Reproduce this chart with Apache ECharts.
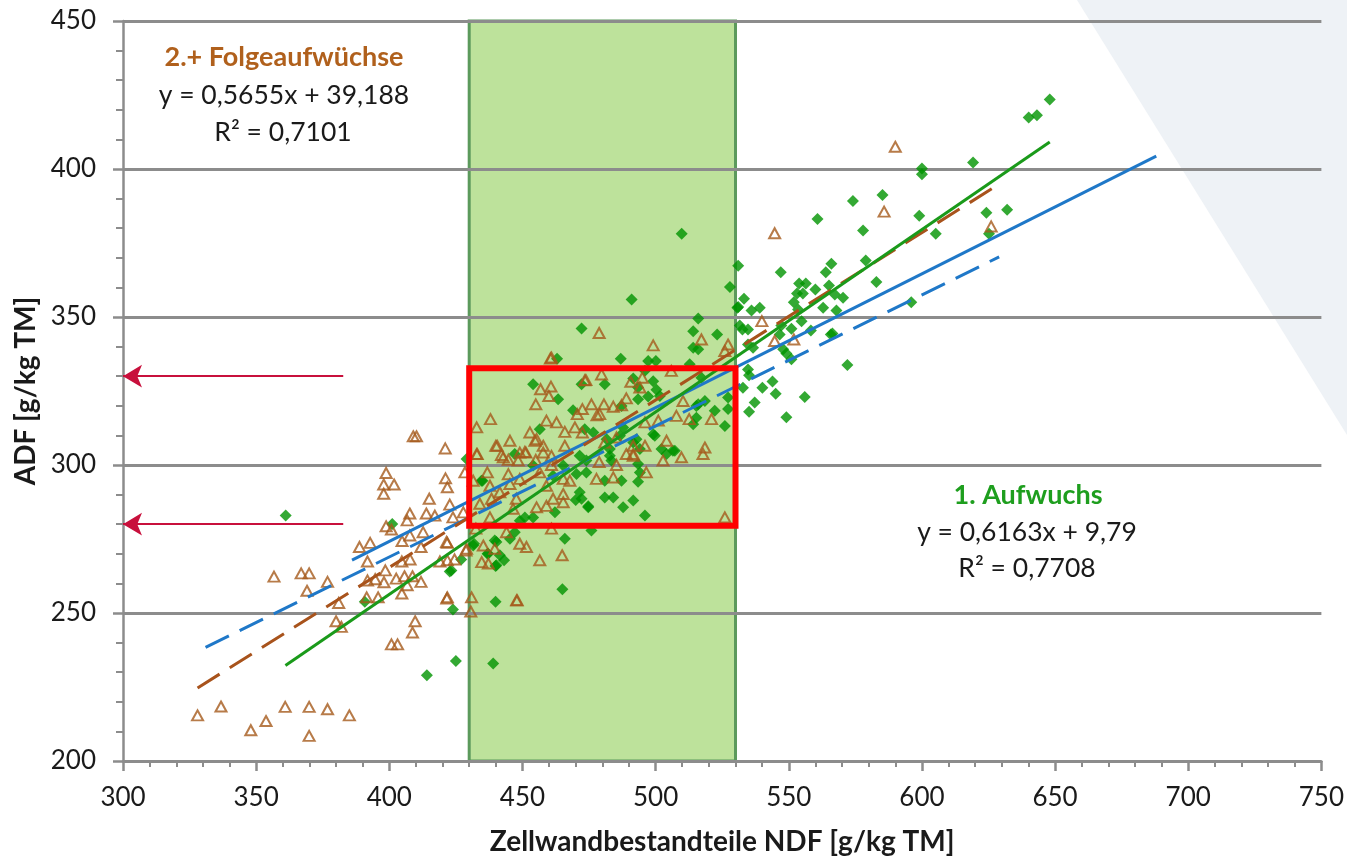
<!DOCTYPE html>
<html><head><meta charset="utf-8">
<script src="https://cdn.jsdelivr.net/npm/echarts@6/dist/echarts.min.js"></script>
<style>html,body{margin:0;padding:0;background:#fff}#c{width:1347px;height:861px}</style>
</head><body><div id="c"></div>
<script>
// ---- data ----
const xTickValues = [300, 350, 400, 450, 500, 550, 600, 650, 700, 750];
const yTickValues = [200, 250, 300, 350, 400, 450];

// 1. Aufwuchs (green diamonds): [NDF, ADF]
const aufwuchs1 = [
 [390.8,253.8],[414.1,229],[425,233.8],[423.9,251.2],[439,232.9],[439.9,253.8],[361.1,282.9],[401.1,280.1],[422.7,264],[427,268.1],
 [435,294.7],[429,302],[439.6,274.5],[436.9,270],[439.9,265.9],[431.8,273.4],[465,258],
 [472.2,346.1],[491,355.9],[516,349.5],[514.1,345.2],[523.1,344.1],[531,353.4],[531.6,347.1],[534.7,345.8],[534.7,340.7],
 [514.1,339.6],[516,339.1],[463,335.9],[486.9,335.9],[497.2,335.1],[500.1,335.1],[496,331.8],[517.2,329.5],[454,327.3],
 [472.2,327.3],[480.9,327.3],[491.6,329.2],[499.1,328.3],[493.4,326.2],[500.3,325.4],[497.2,323.1],[463.4,322.2],[469,318.5],
 [487.2,319.9],[493.4,322.2],[527.2,322.8],[527.2,318.9],[522.2,318.3],[515.3,319.9],[518.5,321.6],[473.4,312.1],[456.5,312.1],
 [487.8,312.7],[486.6,309.9],[476.6,311],[481.6,308.7],[491.6,307.6],[492.8,308.7],[499.7,309.9],[515.3,316],[514.1,313.8],
 [526,313.2],[502.2,305.4],[506.5,304.8],[504.1,303.7],[494.1,305.4],[482.8,305.4],[471.5,303.1],[474,301.5],[482.8,303.1],
 [493.4,300.3],[447.1,303.7],[465.3,299.8],[454,299.8],[474,297.5],[470.3,297],[480.9,294.7],[487.2,294.7],[493.4,294.3],
 [461.5,296.4],[434.6,294.7],[471.5,290.8],[472.2,288.6],[480.9,289],[484.1,289],[491.6,288],[474.7,285.7],[487.8,285.7],
 [496,282.9],[462.2,284],[454,282.3],[450.9,282.3],[449,281.2],[447.1,277.3],[465.9,275.1],[475.9,277.9],[440.2,274],
 [437.1,270],[441.5,269.5],[440.2,266.1],[431.5,272.8],[423.3,264.4],[470,288.2],[474.7,286.1],[445.3,275.1],[443.1,267.8],
 [509.8,378.1],[527.9,360.1],[533.2,356.2],[530.7,353.1],[512.8,334],[501.6,323.3],[516,320.5],[499.1,310.4],[507.2,304.8],
 [483.4,301.5],[494.1,297.5],
 [619.2,402.2],[600,400.2],[600,398.2],[574.1,389.2],[585.2,391.2],[560.8,383.1],[599,384.2],[577.9,379.2],[624.2,385.2],
 [632,386.2],[605.2,378.1],[625.2,378.1],[531,367.3],[547,365.1],[566,368],[563.9,365.1],[578.9,369.1],[582.9,361.8],
 [553.9,361.3],[556.4,361.3],[553.1,357.9],[555.3,357.9],[565.1,360.6],[560,359.3],[567.3,357.6],[570.4,356.5],[539.1,353.1],
 [536,352.2],[551.9,355],[553.5,352.5],[562.9,353.1],[567.9,352.2],[554.8,348.6],[596,355],[532.6,345.8],[551,346],
 [547.2,347.1],[546.6,344.1],[566.4,344.4],[536.6,339.6],[547.9,339.1],[549.1,337.7],[551,335.7],[534.7,332.3],[535.1,330.3],
 [572,333.8],[543.9,328.2],[532.8,326.1],[540.1,326.1],[545.1,324.1],[556,323],[537.2,321.1],[535.1,318],[549.1,316.1],
 [640.1,417.4],[643.2,418.2],[648,423.5],[558.3,345.4],[565.8,344.1]
];

// 2.+ Folgeaufwüchse (brown triangles): [NDF, ADF]
const folgeaufwuechse = [
 [328,215.4],[336.8,218.4],[348,210.4],[353.7,213.5],[360.9,218.3],[369.9,218.3],[369.9,208.5],[376.8,217.5],[385,215.4],
 [380,247.2],[381,253.4],[382,245.3],[400.8,239.4],[403.1,239.4],[408.7,243.4],[409.7,247.2],[421.6,254.9],[430.6,250.5],[447.8,254.3],
 [409,309.7],[410.2,309.7],[421,305.6],[398.8,297.3],[397.9,293.4],[401.8,293.4],[397.9,290.3],[421.1,295.5],[421.8,292.5],
 [415,288.6],[422.7,286.6],[407.7,283.6],[413.9,283.6],[423.9,282.3],[406.7,281.3],[398.8,279.3],[400.8,278.2],[407.7,276.2],
 [412.7,277.3],[388.8,272.3],[392.8,273.7],[404.8,274.3],[421.8,273.7],[411.9,272.3],[391.8,267.4],[404.7,267.4],[407.8,268.1],
 [419,267.4],[424.5,268.1],[356.7,262.3],[366.9,263.4],[369.9,263.4],[369.1,257.5],[376.8,260.5],[391.8,261],[398.5,264.4],
 [394.7,261.4],[398,260.4],[402.6,261.6],[405.7,262.4],[408.7,262.4],[406.7,259.4],[411.9,260.5],[404.7,256.6],[391.5,255.3],
 [395.8,255.3],[421.8,255.3],[430.9,255.3],
 [432.8,312.7],[438,315.5],[432.8,303.7],[440,306.5],[428.4,297.5],[417.1,282.9],[427.8,284],[421.5,274],[428.8,271.1],[421.8,267.8],
 [478.8,344.6],[499.1,340.4],[526,338.5],[527.2,340.7],[460.9,336.3],[479.7,330.6],[505.9,331.8],[460.7,326.5],[456.8,325.6],
 [459.9,323.3],[455,320.5],[473.4,328.6],[490.7,328.1],[494.1,326.2],[489,322.5],[472.5,318.9],[475.9,320.5],[470.6,317.2],
 [480.6,320.5],[484.1,319.7],[510.3,321.6],[487.2,320.2],[478,316.8],[462.8,314.4],[459,315],[469.7,312.7],[465.9,311.2],
 [452.8,311],[454.7,308.2],[445.3,308.2],[440.5,306.5],[457.8,306.5],[449,304.2],[451.3,304.2],[465.9,306.5],[472.5,311],
 [480.9,307.6],[485.3,309.3],[491.6,306.5],[496,306.5],[489,303.7],[491.6,303.7],[504.1,308.2],[509.7,302.6],[502.8,301.5],
 [518.5,305.9],[517.8,303.7],[433,303.7],[442.1,303.4],[444.7,301.8],[448.4,301.5],[455,301.7],[460.9,300],[478.8,301],
 [485.3,300],[436.8,297.5],[444.7,296.9],[449,295.3],[456.5,297.5],[465.3,295.3],[477.8,295.3],[484.1,295.8],[496.5,297.5],
 [437.8,293],[445.3,293.6],[459,293],[467.8,294.7],[438.4,288.6],[441.5,290.8],[447.7,288.6],[434,286.9],[437.8,282.3],
 [446.5,285.2],[461.5,288.6],[465.3,287.4],[455.3,285.7],[459,286.2],[526,282.3],[431.5,294.7],[432.5,278.5],[435.3,272.8],
 [434.7,267.2],[437.2,266.7],[444,277.3],[449,273.4],[451.5,272.3],[456.5,267.8],[464.9,269.5],[460.9,278.5],[448,254.3],
 [439.6,271.7],[429,271.7],[465.3,290.2],[473.8,328.7],[460.5,336],[479,317.2],[455.3,308.7],[457.8,304.2],[460.9,303.1],
 [442.8,302.6],[450.9,304.4],[517.2,342.4],[495,329.5],[512.6,315.5],[521,315.5],[507.8,316.6],[501,315],[496,314.4],
 [491.6,303.1],
 [590,407.5],[585.8,385.6],[626,380.6],[544.7,378.3],[539.9,348.6],[544.7,341.9],[551.9,342.4]
];

// linear trend lines
const trendNames      = ['1. Aufwuchs', '2.+ Folgeaufwüchse', 'gesamt', 'gesamt (2)'];
const trendSlopes     = [0.6163, 0.5655, 0.452, 0.4427];
const trendIntercepts = [9.79, 39.188, 93.4, 91.85];
const trendXStart     = [361, 328, 386, 331];
const trendXEnd       = [648, 627, 688, 629];

// highlighted ranges
const optimumNDF = [430, 530];
const redBoxADF  = [279.5, 332.7];
const arrowADF   = [330, 280];
const arrowFromNDF = 382.7;

// ---- chart ----
const FONT = 'Lato, "Open Sans", sans-serif';
const GRAY = '#8c8c8c';

function trend(i) {
  return [trendXStart[i], trendXEnd[i]].map(x => [x, trendSlopes[i] * x + trendIntercepts[i]]);
}

const chart = echarts.init(document.getElementById('c'));
chart.setOption({
  animation: false,
  backgroundColor: '#ffffff',
  grid: { left: 123, right: 25, top: 21, bottom: 98 },
  graphic: [
    { type: 'polygon', z: -100, silent: true,
      shape: { points: [[1077, 0], [1347, 0], [1347, 435]] },
      style: { fill: '#eef2f6' } },
    { type: 'text', x: 284, y: 57, z: 50,
      style: { text: '2.+ Folgeaufwüchse', font: 'bold 27px ' + FONT, fill: '#b0601c', textAlign: 'center', textVerticalAlign: 'middle' } },
    { type: 'text', x: 284, y: 95, z: 50,
      style: { text: 'y = 0,5655x + 39,188', font: '26.5px ' + FONT, fill: '#1a1a1a', textAlign: 'center', textVerticalAlign: 'middle' } },
    { type: 'text', x: 283, y: 132, z: 50,
      style: { text: 'R² = 0,7101', font: '26.5px ' + FONT, fill: '#1a1a1a', textAlign: 'center', textVerticalAlign: 'middle' } },
    { type: 'text', x: 1028, y: 495, z: 50,
      style: { text: '1. Aufwuchs', font: 'bold 27px ' + FONT, fill: '#1e9e1e', textAlign: 'center', textVerticalAlign: 'middle' } },
    { type: 'text', x: 1027, y: 532, z: 50,
      style: { text: 'y = 0,6163x + 9,79', font: '26.5px ' + FONT, fill: '#1a1a1a', textAlign: 'center', textVerticalAlign: 'middle' } },
    { type: 'text', x: 1027, y: 568, z: 50,
      style: { text: 'R² = 0,7708', font: '26.5px ' + FONT, fill: '#1a1a1a', textAlign: 'center', textVerticalAlign: 'middle' } }
  ],
  xAxis: {
    type: 'value', min: xTickValues[0], max: xTickValues[xTickValues.length - 1], interval: 50,
    name: 'Zellwandbestandteile NDF [g/kg TM]', nameLocation: 'middle', nameGap: 67,
    nameTextStyle: { fontFamily: FONT, fontWeight: 'bold', fontSize: 28, color: '#1a1a1a' },
    axisLine: { onZero: false, lineStyle: { color: GRAY, width: 2.5 } },
    axisTick: { show: true, length: 10, lineStyle: { color: GRAY, width: 2.5 } },
    minorTick: { show: true, splitNumber: 5, length: 6, lineStyle: { color: GRAY, width: 2 } },
    splitLine: { show: false },
    axisLabel: { fontFamily: FONT, fontSize: 26, color: '#1a1a1a', margin: 24 }
  },
  yAxis: {
    type: 'value', min: yTickValues[0], max: yTickValues[yTickValues.length - 1], interval: 50,
    name: 'ADF [g/kg TM]', nameLocation: 'middle', nameGap: 79,
    nameTextStyle: { fontFamily: FONT, fontWeight: 'bold', fontSize: 28, color: '#1a1a1a' },
    axisLine: { onZero: false, lineStyle: { color: GRAY, width: 2.5 } },
    axisTick: { show: true, length: 10, lineStyle: { color: GRAY, width: 2.5 } },
    minorTick: { show: true, splitNumber: 5, length: 7, lineStyle: { color: GRAY, width: 2 } },
    splitLine: { show: true, lineStyle: { color: GRAY, width: 3 } },
    axisLabel: { fontFamily: FONT, fontSize: 26, color: '#1a1a1a', margin: 27 }
  },
  series: [
    { name: '1. Aufwuchs', type: 'scatter', data: aufwuchs1, symbol: 'diamond', symbolSize: 12, z: 3,
      itemStyle: { color: '#009400' },
      markArea: { silent: true, z: -1,
        itemStyle: { color: '#bde29b', borderColor: '#5c9a5c', borderWidth: 3 },
        data: [[{ coord: [optimumNDF[0], yTickValues[0]] }, { coord: [optimumNDF[1], yTickValues[yTickValues.length - 1]] }]] } },
    { name: '2.+ Folgeaufwüchse', type: 'scatter', data: folgeaufwuechse, symbol: 'triangle', symbolSize: [11, 10], z: 4,
      itemStyle: { color: 'rgba(255,255,255,0)', borderColor: '#a55a1c', borderWidth: 2 },
      markArea: { silent: true, z: 20,
        itemStyle: { color: 'rgba(0,0,0,0)', borderColor: '#ff0000', borderWidth: 6 },
        data: [[{ coord: [optimumNDF[0], redBoxADF[0]] }, { coord: [optimumNDF[1], redBoxADF[1]] }]] } },
    { name: trendNames[2], type: 'line', data: trend(2), symbol: 'none', z: 6,
      lineStyle: { color: '#1f78c8', width: 3 } },
    { name: trendNames[3], type: 'line', data: trend(3), symbol: 'none', z: 6,
      lineStyle: { color: '#1f78c8', width: 3, type: [26, 12] } },
    { name: trendNames[1], type: 'line', data: trend(1), symbol: 'none', z: 7,
      lineStyle: { color: '#a8531c', width: 3, type: [26, 12] } },
    { name: trendNames[0], type: 'line', data: trend(0), symbol: 'none', z: 8,
      lineStyle: { color: '#1a9a1a', width: 3 },
      markLine: { silent: true, z: 20, symbol: ['none', 'arrow'], symbolSize: [17, 19],
        label: { show: false },
        lineStyle: { color: '#c8103c', width: 2, type: 'solid' },
        data: arrowADF.map(v => [{ coord: [arrowFromNDF, v] }, { coord: [xTickValues[0], v] }]) } }
  ]
});
</script></body></html>
